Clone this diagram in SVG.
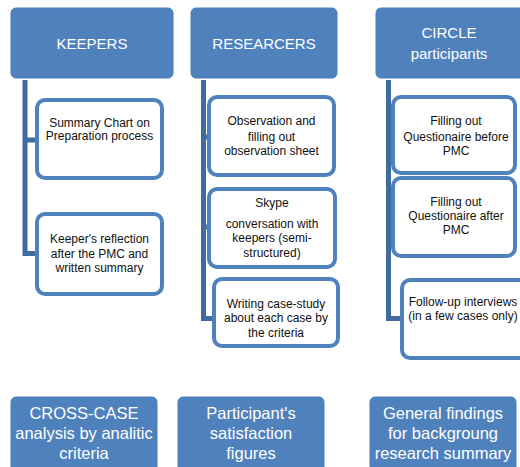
<svg xmlns="http://www.w3.org/2000/svg" width="520" height="467" viewBox="0 0 520 467">
<style>
.hdr{fill:#4F81BD;stroke:#4A7EBB;stroke-width:1}
.child{fill:#fff;stroke:#4F81BD;stroke-width:4}
.conn{fill:none;stroke:#3F6C9F;stroke-width:5;stroke-linejoin:miter}
.ht{font-family:"Liberation Sans",Arial,sans-serif;font-size:15px;fill:#fff;text-anchor:middle}
.bt{font-family:"Liberation Sans",Arial,sans-serif;font-size:16.5px;fill:#fff;text-anchor:middle}
.ct{font-family:"Liberation Sans",Arial,sans-serif;font-size:12px;fill:#111;text-anchor:middle}
</style>
<rect width="520" height="467" fill="#fff"/>
<g id="connectors">
<path class="conn" d="M25,80 V253.5 H37 M25,140 H37"/>
<path class="conn" d="M203.5,80 V318.5 H214 M203.5,137 H209 M203.5,227 H209"/>
<path class="conn" d="M388.5,80 V318.5 H402 M388.5,136 H393 M388.5,217 H393"/>
</g>
<g id="keepers">
<rect class="hdr" x="11" y="8" width="162" height="70" rx="5"/>
<text class="ht" x="92" y="48.5">KEEPERS</text>
</g>
<g id="researchers">
<rect class="hdr" x="191" y="8" width="146" height="70" rx="5"/>
<text class="ht" x="264" y="48.5">RESEARCERS</text>
</g>
<g id="circle">
<rect class="hdr" x="376" y="8" width="150" height="70" rx="5"/>
<text class="ht" x="449" y="37.5">CIRCLE</text>
<text class="ht" x="449" y="58.5">participants</text>
</g>
<g id="k1">
<rect class="child" x="37" y="100" width="125" height="78" rx="8"/>
<text class="ct" x="99.5" y="127">Summary Chart on</text>
<text class="ct" x="99.5" y="140">Preparation process</text>
</g>
<g id="k2">
<rect class="child" x="37" y="214" width="125" height="80" rx="8"/>
<text class="ct" x="99.5" y="243">Keeper's reflection</text>
<text class="ct" x="99.5" y="258">after the PMC and</text>
<text class="ct" x="99.5" y="272">written summary</text>
</g>
<g id="r1">
<rect class="child" x="209" y="97" width="125" height="78" rx="8"/>
<text class="ct" x="271.5" y="125">Observation and</text>
<text class="ct" x="271.5" y="141">filling out</text>
<text class="ct" x="271.5" y="155">observation sheet</text>
</g>
<g id="r2">
<rect class="child" x="209" y="189" width="126" height="78" rx="8"/>
<text class="ct" x="272" y="207">Skype</text>
<text class="ct" x="272" y="228">conversation with</text>
<text class="ct" x="272" y="242">keepers (semi-</text>
<text class="ct" x="272" y="257">structured)</text>
</g>
<g id="r3">
<rect class="child" x="214" y="279" width="124" height="67" rx="8"/>
<text class="ct" x="276" y="308">Writing case-study</text>
<text class="ct" x="276" y="322">about each case by</text>
<text class="ct" x="276" y="337">the criteria</text>
</g>
<g id="c1">
<rect class="child" x="393" y="97" width="122" height="76" rx="8"/>
<text class="ct" x="456" y="125">Filling out</text>
<text class="ct" x="456" y="141">Questionaire before</text>
<text class="ct" x="456" y="155">PMC</text>
</g>
<g id="c2">
<rect class="child" x="393" y="178" width="122" height="78" rx="8"/>
<text class="ct" x="456" y="206">Filling out</text>
<text class="ct" x="456" y="220">Questionaire after</text>
<text class="ct" x="456" y="234">PMC</text>
</g>
<g id="c3">
<rect class="child" x="402" y="280" width="128" height="78" rx="8"/>
<text class="ct" x="463" y="306">Follow-up interviews</text>
<text class="ct" x="463" y="320">(in a few cases only)</text>
</g>
<g id="b1">
<rect class="hdr" x="11" y="397" width="146" height="80" rx="5"/>
<text class="bt" x="84" y="419">CROSS-CASE</text>
<text class="bt" x="84" y="439">analysis by analitic</text>
<text class="bt" x="84" y="459">criteria</text>
</g>
<g id="b2">
<rect class="hdr" x="178" y="397" width="146" height="80" rx="5"/>
<text class="bt" x="251" y="419">Participant's</text>
<text class="bt" x="251" y="439">satisfaction</text>
<text class="bt" x="251" y="459">figures</text>
</g>
<g id="b3">
<rect class="hdr" x="370" y="397" width="146" height="80" rx="5"/>
<text class="bt" x="443" y="419">General findings</text>
<text class="bt" x="443" y="439">for backgroung</text>
<text class="bt" x="443" y="459">research summary</text>
</g>
</svg>
